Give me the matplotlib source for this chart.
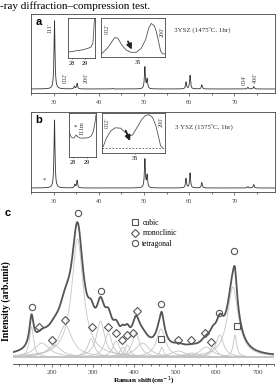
import matplotlib.pyplot as plt
import numpy as np
from matplotlib.lines import Line2D
from matplotlib.ticker import MultipleLocator

W, H = 280, 386
plt.rcParams['font.family'] = ['Liberation Serif', 'DejaVu Serif']

# XRD peaks: (2theta, relative intensity)
xrd_a_pos = [30.2, 34.6, 35.2, 43.0, 50.2, 50.7, 59.3, 60.2, 62.8, 73.0, 74.3]
xrd_a_int = [100, 4, 8, 0.8, 32, 14, 10, 20, 6, 2.5, 3.5]
xrd_b_pos = [30.2, 34.7, 35.2, 50.2, 50.7, 59.3, 60.2, 62.8, 73.0, 74.3]
xrd_b_int = [100, 5, 11, 42, 18, 14, 22, 8, 2, 5]
xrd_ticks = [30, 40, 50, 60, 70]

# insets (2theta, fraction of inset height)
ins_a1_x = [27.70, 28.0, 28.3, 28.6, 28.9, 29.2, 29.45, 29.52, 29.60, 29.66, 29.70, 29.74]
ins_a1_y = [0.15, 0.16, 0.18, 0.19, 0.21, 0.24, 0.27, 0.32, 0.35, 0.60, 0.85, 0.97]
ins_b1_x = [27.72, 27.85, 27.97, 28.09, 28.21, 28.33, 28.5, 28.8, 29.1, 29.3, 29.45, 29.57, 29.63]
ins_b1_y = [0.58, 0.46, 0.43, 0.44, 0.50, 0.46, 0.43, 0.43, 0.44, 0.48, 0.58, 0.78, 0.95]
ins_a2_x = [34.43, 34.52, 34.59, 34.63, 34.68, 34.74, 34.81, 34.89, 34.97, 35.05, 35.12, 35.17, 35.21, 35.26, 35.29, 35.33, 35.36, 35.39, 35.43]
ins_a2_y = [0.10, 0.24, 0.41, 0.50, 0.48, 0.31, 0.18, 0.12, 0.12, 0.22, 0.44, 0.74, 0.86, 0.80, 0.66, 0.38, 0.15, 0.08, 0.08]
ins_b2_x = [34.49, 34.54, 34.61, 34.68, 34.77, 34.83, 34.91, 34.96, 35.04, 35.10, 35.16, 35.22, 35.28, 35.33, 35.38, 35.41, 35.44]
ins_b2_y = [0.16, 0.37, 0.55, 0.63, 0.62, 0.53, 0.43, 0.45, 0.66, 0.82, 0.93, 0.96, 0.89, 0.70, 0.38, 0.18, 0.13]

# Raman fitted components: position (cm-1), amplitude, half width
ram_pos = [150, 175, 205, 232, 262, 295, 318, 337, 356, 372, 383, 404, 420, 465, 467, 507, 540, 575, 592, 608, 640, 645]
ram_amp = [30, 14, 12, 32, 118, 18, 36, 24, 16, 10, 12, 24, 14, 28, 10, 6, 4, 10, 10, 22, 70, 22]
ram_hw = [6, 22, 20, 20, 17, 10, 12, 11, 10, 8, 8, 11, 20, 13, 5, 22, 22, 18, 10, 11, 16, 5]
tet_x = [151, 263, 318, 465, 606, 642]
tet_y = [50, 144, 66, 53, 44, 106]
mono_x = [168, 200, 232, 297, 337, 356, 371, 382, 398, 406, 507, 539, 573, 586]
mono_y = [30, 17, 37, 30, 30, 24, 17, 22, 24, 46, 17, 17, 24, 15]
cub_x = [465, 649]
cub_y = [18, 31]
ram_ticks = [200, 300, 400, 500, 600, 700]


def lorentz(x, pos, amp, hw):
    y = np.zeros_like(x)
    for p, a, w in zip(pos, amp, hw):
        y += a * w ** 2 / ((x - p) ** 2 + w ** 2)
    return y


fig = plt.figure(figsize=(W / 100, H / 100), dpi=100)


def box(x0, y0, x1, y1):
    return fig.add_axes([x0 / W, 1 - y1 / H, (x1 - x0) / W, (y1 - y0) / H])


fig.text(0.0, 1 - 6 / H, '-ray diffraction\u2013compression test.', fontsize=8,
         va='center', ha='left')

line_c = '#333333'
arrow = dict(arrowstyle='-|>,head_length=0.5,head_width=0.25', color='#222222',
             lw=1.3, mutation_scale=6, shrinkA=0, shrinkB=0)


def xrd_panel(rect, pos, ints, ylim):
    ax = box(*rect)
    tt = np.linspace(25, 79, 20000)
    ax.plot(tt, lorentz(tt, pos, ints, [0.13] * len(pos)), color=line_c, lw=0.6)
    ax.set_xlim(25, 79)
    ax.set_ylim(*ylim)
    ax.set_xticks(xrd_ticks)
    ax.xaxis.set_minor_locator(MultipleLocator(5))
    ax.set_yticks([])
    ax.tick_params(axis='x', which='major', direction='out', length=2.5, width=0.5,
                   labelsize=4.5, pad=2.5, colors='#444444')
    ax.tick_params(axis='x', which='minor', direction='out', length=1.5, width=0.4)
    for s in ax.spines.values():
        s.set_linewidth(0.6)
        s.set_color('#444444')
    return ax


def inset(rect, xs, ys, xlim, ticks):
    ax = box(*rect)
    ax.plot(xs, ys, color='#555555', lw=0.6)
    ax.set_xlim(*xlim)
    ax.set_ylim(0, 1)
    ax.set_xticks(ticks)
    ax.set_yticks([])
    ax.tick_params(axis='x', length=1, width=0.4, labelsize=4.5, pad=1)
    for s in ax.spines.values():
        s.set_linewidth(0.6)
        s.set_color('#444444')
    return ax


# panel a
ax_a = xrd_panel((31, 14, 275, 93), xrd_a_pos, xrd_a_int, (-5.9, 110))
ax_a.text(26, 105, 'a', fontsize=8, fontweight='bold', family='Liberation Sans',
          va='top', ha='left')
for x, y, s in [(29.2, 90, "111'"), (32.5, 16, "002'"), (37.3, 16, "200'"),
                (72.3, 13, "004'"), (74.7, 16, "400'")]:
    ax_a.text(x, y, s, rotation=90, fontsize=4.5, ha='center', va='center', color='#444444')
ax_a.text(56.6, 87, '3YSZ (1475\u00baC, 1hr)', fontsize=5, va='center', color='#333333')

a1 = inset((68, 18, 95, 58), ins_a1_x, ins_a1_y, (27.7, 29.77), [28, 29])
a2 = inset((101, 18, 165, 57), ins_a2_x, ins_a2_y, (34.41, 35.43), [35])
a2.text(34.51, 0.72, "002'", rotation=90, fontsize=4.5, ha='center', va='center', color='#444444')
a2.text(35.39, 0.64, "200'", rotation=90, fontsize=4.5, ha='center', va='center', color='#444444')
a2.annotate('', xy=(34.9, 0.19), xytext=(34.84, 0.40), arrowprops=arrow)

# panel b
ax_b = xrd_panel((31, 112, 275, 192), xrd_b_pos, xrd_b_int, (-5.9, 111.8))
ax_b.text(26, 107, 'b', fontsize=8, fontweight='bold', family='Liberation Sans',
          va='top', ha='left')
ax_b.text(27.9, 12, '*', fontsize=5, ha='center', va='center', color='#444444')
ax_b.text(56.9, 90, '3 YSZ (1575\u00baC, 1hr)', fontsize=5, va='center', color='#333333')

b1 = inset((69, 113, 96, 157), ins_b1_x, ins_b1_y, (27.71, 29.64), [28, 29])
b1.text(28.2, 0.68, '*', fontsize=5, ha='center', va='center', color='#333333')
b1.text(28.65, 0.66, '111m', rotation=90, fontsize=4.5, ha='center', va='center', color='#333333')
b2 = inset((102, 113, 165, 153), ins_b2_x, ins_b2_y, (34.47, 35.48), [35])
b2.axhline(0.125, color='#555555', lw=0.6, ls=(0, (2, 2)))
b2.text(34.55, 0.75, "002'", rotation=90, fontsize=4.5, ha='center', va='center', color='#444444')
b2.text(35.42, 0.77, "200'", rotation=90, fontsize=4.5, ha='center', va='center', color='#444444')
b2.annotate('', xy=(34.92, 0.30), xytext=(34.85, 0.56), arrowprops=arrow)

# panel c (Raman)
ax_c = box(13, 205, 274, 364)
nu = np.linspace(105, 740, 3000)
for p, a, w in zip(ram_pos, ram_amp, ram_hw):
    ax_c.plot(nu, lorentz(nu, [p], [a], [w]), color='#c4c4c4', lw=0.6)
ax_c.plot(nu, lorentz(nu, ram_pos, ram_amp, ram_hw), color='#555555', lw=1.3)
mk = dict(ls='none', mfc='none', mec='#555555', mew=0.8)
ax_c.plot(tet_x, tet_y, marker='o', ms=4.5, **mk)
ax_c.plot(mono_x, mono_y, marker='D', ms=3.8, **mk)
ax_c.plot(cub_x, cub_y, marker='s', ms=3.8, **mk)
ax_c.set_xlim(105, 740)
ax_c.set_ylim(-7, 152)
ax_c.set_xticks(ram_ticks)
ax_c.xaxis.set_minor_locator(MultipleLocator(20))
ax_c.set_yticks([])
for side in ['left', 'right', 'top']:
    ax_c.spines[side].set_visible(False)
ax_c.spines['bottom'].set_linewidth(0.6)
ax_c.spines['bottom'].set_color('#444444')
ax_c.tick_params(axis='x', which='major', direction='out', length=2.5, width=0.5,
                 labelsize=5, pad=1.5, colors='#444444')
ax_c.tick_params(axis='x', which='minor', direction='out', length=1.5, width=0.4)
ax_c.set_xlabel('Raman shift(cm$^{-1}$)', fontsize=5.2, fontweight='bold', labelpad=0.5)
fig.text(6.5 / W, 1 - 301 / H, 'Intensity (arb.unit)', rotation=90, fontsize=7,
         fontweight='bold', ha='center', va='center')
fig.text(5 / W, 1 - 213 / H, 'c', fontsize=8, fontweight='bold', family='Liberation Sans',
         ha='left', va='center')

handles = [Line2D([], [], marker='s', ms=3.8, **mk),
           Line2D([], [], marker='D', ms=3.8, **mk),
           Line2D([], [], marker='o', ms=4.5, **mk)]
ax_c.legend(handles, ['cubic', 'monoclinic', 'tetragonal'], loc='upper left',
            bbox_to_anchor=(0.455, 0.915), frameon=False, fontsize=5.5,
            handlelength=0.8, handletextpad=0.6, labelspacing=0.35, borderpad=0,
            borderaxespad=0)

fig.savefig('out.png', dpi=100)
